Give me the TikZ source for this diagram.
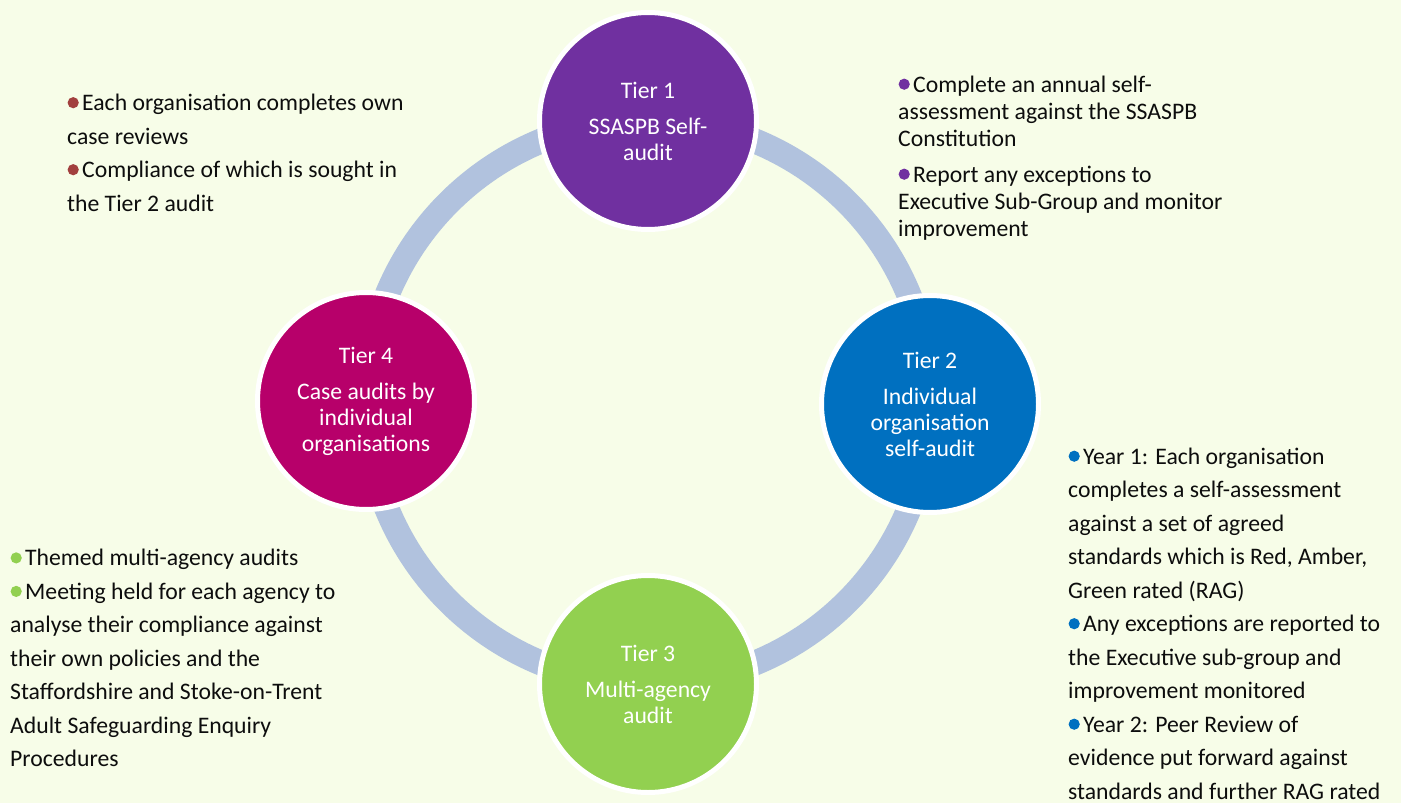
\documentclass[tikz,border=0pt]{standalone}
\usepackage{fontspec}
\setmainfont{Carlito}
\usetikzlibrary{positioning}
\definecolor{bgcol}{HTML}{F7FDE8}
\definecolor{ringcol}{HTML}{B1C2DE}
\definecolor{tpurple}{HTML}{7030A0}
\definecolor{tblue}{HTML}{0070C0}
\definecolor{tgreen}{HTML}{92D050}
\definecolor{tmagenta}{HTML}{B7006A}
\definecolor{tred}{HTML}{A2403E}
\definecolor{ink}{HTML}{0D0D0D}
% coloured round bullet, sitting on the baseline
\newcommand{\bul}[1]{\tikz[baseline=0pt,x=1pt,y=1pt]{\fill[#1] (6,7.8) circle (5.6pt); \path (0,0) (15,0);}}
\tikzset{
  tier/.style={draw=white, line width=5pt, circle, minimum size=217pt, inner sep=0pt, align=center, text=white, font=\fontsize{23.7}{26}\selectfont},
  note/.style={anchor=base west, align=left, inner sep=0pt, text=ink, font=\fontsize{23.7}{33.5}\selectfont},
  ring/.style={draw=ringcol, line width=25pt},
}
\begin{document}
\begin{tikzpicture}[x=1pt,y=-1pt]
\useasboundingbox (0,0) rectangle (1401,803);
\fill[bgcol] (0,0) rectangle (1401,803);
% the cycle behind the four tiers
\coordinate (hub) at (648,402);
\draw[ring] (hub) circle (282);
\node[tier, fill=tpurple] (t1) at (648,121) {Tier 1\\[10pt]SSASPB Self-\\audit};
\node[tier, fill=tblue] (t2) at (930,404) {Tier 2\\[10pt]Individual\\organisation\\self-audit};
\node[tier, fill=tgreen] (t3) at (648,684) {Tier 3\\[10pt]Multi-agency\\audit};
\node[tier, fill=tmagenta] (t4) at (366,401) {Tier 4\\[10pt]Case audits by\\individual\\organisations};
% notes beside each tier (anchored on their last baseline)
\node[note] (n4) at (67,211) {\bul{tred}Each organisation completes own\\case reviews\\\bul{tred}Compliance of which is sought in\\the Tier 2 audit};
\node[note, font=\fontsize{23.7}{27}\selectfont] (n1) at (898,236) {\bul{tpurple}Complete an annual self-\\assessment against the SSASPB\\Constitution\\[9pt]\bul{tpurple}Report any exceptions to\\Executive Sub-Group and monitor\\improvement};
\node[note] (n2) at (1068,799) {\bul{tblue}Year 1: Each organisation\\completes a self-assessment\\against a set of agreed\\standards which is Red, Amber,\\Green rated (RAG)\\\bul{tblue}Any exceptions are reported to\\the Executive sub-group and\\improvement monitored\\\bul{tblue}Year 2: Peer Review of\\evidence put forward against\\standards and further RAG rated};
\node[note] (n3) at (10,766.7) {\bul{tgreen}Themed multi-agency audits\\\bul{tgreen}Meeting held for each agency to\\analyse their compliance against\\their own policies and the\\Staffordshire and Stoke-on-Trent\\Adult Safeguarding Enquiry\\Procedures};
\end{tikzpicture}
\end{document}
